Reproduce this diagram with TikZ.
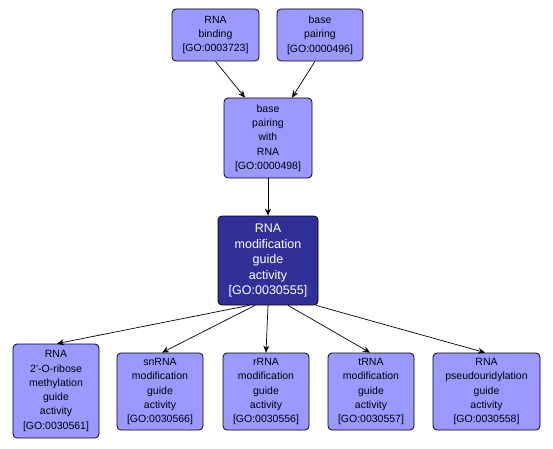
\documentclass[tikz,border=0pt]{standalone}
\usepackage{fontspec}
\setmainfont{Liberation Sans}
\usetikzlibrary{arrows.meta}
\definecolor{lightgo}{RGB}{153,153,255}
\definecolor{darkgo}{RGB}{48,48,150}
\begin{document}
\begin{tikzpicture}[x=1pt,y=1pt,
  goterm/.style={draw=black, line width=0.8pt, rounded corners=4pt, fill=lightgo, align=center,
    font=\fontsize{10.5}{14.3}\selectfont, inner sep=0pt},
  goroot/.style={goterm, fill=darkgo, text=white, font=\fontsize{12.5}{15.5}\selectfont},
  edge/.style={draw=black, line width=0.7pt, -{Stealth[length=7pt,width=6pt]}}]
\useasboundingbox (0,0) rectangle (553,448);
\fill[white] (0,0) rectangle (553,448);
\node[goterm, minimum width=87pt, minimum height=52pt] (rb) at (215.5,413) {RNA\\binding\\{[}GO:0003723{]}};
\node[goterm, minimum width=86pt, minimum height=52pt] (bp) at (320,413) {base\\pairing\\{[}GO:0000496{]}};
\node[goterm, minimum width=88pt, minimum height=80pt] (bpw) at (268,310) {base\\pairing\\with\\RNA\\{[}GO:0000498{]}};
\node[goroot, minimum width=100pt, minimum height=89pt] (rmga) at (268,187.5) {RNA\\modification\\guide\\activity\\{[}GO:0030555{]}};
\node[goterm, minimum width=86pt, minimum height=94pt] (c1) at (56,57) {RNA\\2'-O-ribose\\methylation\\guide\\activity\\{[}GO:0030561{]}};
\node[goterm, minimum width=86pt, minimum height=77pt] (c2) at (160,56.5) {snRNA\\modification\\guide\\activity\\{[}GO:0030566{]}};
\node[goterm, minimum width=86pt, minimum height=77pt] (c3) at (266,56.5) {rRNA\\modification\\guide\\activity\\{[}GO:0030556{]}};
\node[goterm, minimum width=86pt, minimum height=77pt] (c4) at (371,56.5) {tRNA\\modification\\guide\\activity\\{[}GO:0030557{]}};
\node[goterm, minimum width=107pt, minimum height=77pt] (c5) at (486.5,56.5) {RNA\\pseudouridylation\\guide\\activity\\{[}GO:0030558{]}};
\draw[edge] (rb.south) -- ([xshift=-23pt]bpw.north);
\draw[edge] ([xshift=-5pt]bp.south) -- ([xshift=24pt]bpw.north);
\draw[edge] (bpw.south) -- (rmga.north);
\draw[edge] ([xshift=-19pt]rmga.south) -- ([xshift=1pt]c1.north);
\draw[edge] ([xshift=-13pt]rmga.south) -- ([xshift=2pt]c2.north);
\draw[edge] (rmga.south) -- (c3.north);
\draw[edge] ([xshift=20pt]rmga.south) -- ([xshift=-1pt]c4.north);
\draw[edge] ([xshift=48pt]rmga.south) -- ([xshift=-1.5pt]c5.north);
\end{tikzpicture}
\end{document}
